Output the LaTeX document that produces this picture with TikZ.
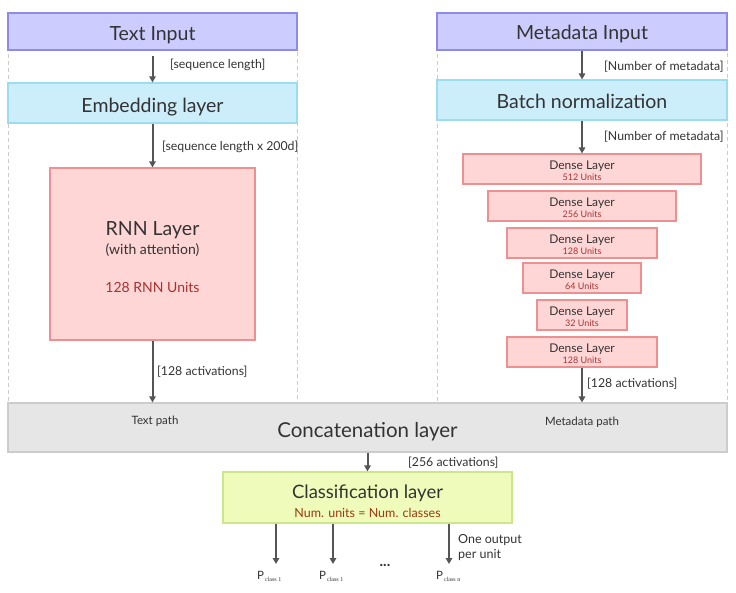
\documentclass[tikz,border=0pt]{standalone}
\usepackage{fontspec}
\setmainfont{Lato}
\newfontfamily\subfont{Liberation Serif}
\usetikzlibrary{arrows.meta}
\definecolor{txt}{HTML}{333333}
\definecolor{redtxt}{HTML}{A83232}
\definecolor{browntxt}{HTML}{9A3A10}
\definecolor{lavfill}{HTML}{CCCCFF}
\definecolor{lavdraw}{HTML}{8C8CE8}
\definecolor{cyanfill}{HTML}{CCEEFB}
\definecolor{cyandraw}{HTML}{99DDEE}
\definecolor{pinkfill}{HTML}{FFD6D6}
\definecolor{pinkdraw}{HTML}{EE9090}
\definecolor{grayfill}{HTML}{E6E6E6}
\definecolor{graydraw}{HTML}{CCCCCC}
\definecolor{limefill}{HTML}{EEFBBA}
\definecolor{limedraw}{HTML}{CCE68A}
\definecolor{arrowc}{HTML}{555555}
\begin{document}
\begin{tikzpicture}[x=1pt,y=-1pt,
  box/.style={draw, line width=1.2pt, inner sep=0pt, text=txt},
  inbox/.style={box, fill=lavfill, draw=lavdraw},
  embbox/.style={box, fill=cyanfill, draw=cyandraw},
  pinkbox/.style={box, fill=pinkfill, draw=pinkdraw},
  concbox/.style={box, fill=grayfill, draw=graydraw},
  classbox/.style={box, fill=limefill, draw=limedraw},
  panel/.style={draw=graydraw, line width=0.8pt, dash pattern=on 4pt off 3pt},
  conn/.style={draw=arrowc, line width=2pt, -{Triangle[length=6pt,width=6.5pt]}},
  big/.style={font=\fontsize{19.5}{22}\selectfont, text=txt},
  lab/.style={font=\fontsize{12.3}{14}\selectfont, text=txt, anchor=base west, inner sep=0pt},
  dl/.style={font=\fontsize{12}{13}\selectfont, text=txt, anchor=base, inner sep=0pt},
  du/.style={font=\fontsize{9}{10}\selectfont, text=redtxt, anchor=base, inner sep=0pt},
  pl/.style={font=\fontsize{11.5}{12}\selectfont, text=txt, anchor=base west, inner sep=0pt}
]
\useasboundingbox (0,0) rectangle (736,592);
% panels
\draw[panel] (8,12) rectangle (297,404);
\draw[panel] (437,12) rectangle (727,404);

% left column
\node[inbox, minimum width=289pt, minimum height=37pt] (ti) at (152.5,31.5) {};
\node[big, anchor=base, inner sep=0pt] (tit) at (152.5,40) {Text Input};
\node[embbox, minimum width=289pt, minimum height=40pt] (emb) at (152.5,103) {};
\node[big, anchor=base, inner sep=0pt] (embt) at (152.5,112) {Embedding layer};
\node[pinkbox, minimum width=205pt, minimum height=172pt] (rnn) at (152.5,254) {};
\node[big, anchor=base, inner sep=0pt] (rnnt) at (152.5,235) {RNN Layer};
\node[font=\fontsize{14}{16}\selectfont, text=txt, anchor=base, inner sep=0pt] (rnna) at (152.5,254) {(with attention)};
\node[font=\fontsize{14}{16}\selectfont, text=redtxt, anchor=base, inner sep=0pt] (rnnu) at (152.5,292) {128 RNN Units};

% right column
\node[inbox, minimum width=290pt, minimum height=37pt] (mi) at (582,31.5) {};
\node[big, anchor=base, inner sep=0pt] (mit) at (582,39) {Metadata Input};
\node[embbox, minimum width=290pt, minimum height=40pt] (bn) at (582,100) {};
\node[big, anchor=base, inner sep=0pt] (bnt) at (582,108) {Batch normalization};

\node[pinkbox, minimum width=238pt, minimum height=30pt] (d1) at (582,169) {};
\node[dl] at (582,169) {Dense Layer};
\node[du] at (582,180) {512 Units};
\node[pinkbox, minimum width=188pt, minimum height=30pt] (d2) at (582,206) {};
\node[dl] at (582,206) {Dense Layer};
\node[du] at (582,217) {256 Units};
\node[pinkbox, minimum width=150pt, minimum height=30pt] (d3) at (582,243) {};
\node[dl] at (582,243) {Dense Layer};
\node[du] at (582,254) {128 Units};
\node[pinkbox, minimum width=118pt, minimum height=30pt] (d4) at (582,278) {};
\node[dl] at (582,278) {Dense Layer};
\node[du] at (582,289) {64 Units};
\node[pinkbox, minimum width=90pt, minimum height=30pt] (d5) at (582,315) {};
\node[dl] at (582,315) {Dense Layer};
\node[du] at (582,326) {32 Units};
\node[pinkbox, minimum width=150pt, minimum height=30pt] (d6) at (582,352) {};
\node[dl] at (582,352) {Dense Layer};
\node[du] at (582,363) {128 Units};

% concatenation
\node[concbox, minimum width=719pt, minimum height=49pt] (cat) at (367.5,427.5) {};
\node[font=\fontsize{20.5}{23}\selectfont, text=txt, anchor=base, inner sep=0pt] (catt) at (367.5,437) {Concatenation layer};
\node[font=\fontsize{11.5}{13}\selectfont, text=txt, anchor=base, inner sep=0pt] (tp) at (155,424) {Text path};
\node[font=\fontsize{11.5}{13}\selectfont, text=txt, anchor=base, inner sep=0pt] (mp) at (582,425) {Metadata path};

% classification
\node[classbox, minimum width=289pt, minimum height=51pt] (cls) at (367.5,497.5) {};
\node[font=\fontsize{18.5}{21}\selectfont, text=txt, anchor=base, inner sep=0pt] (clst) at (367.5,498) {Classification layer};
\node[font=\fontsize{12.5}{14}\selectfont, text=browntxt, anchor=base, inner sep=0pt] (clsu) at (367.5,517) {Num. units = Num. classes};

% output coordinates
\coordinate (o1) at (276,564);
\coordinate (o2) at (333,564);
\coordinate (o3) at (449,564);
\node[pl] (p1) at (257,579) {P\raisebox{-2pt}{\subfont\fontsize{6}{7}\selectfont\,class 1}};
\node[pl] (p2) at (319,579) {P\raisebox{-2pt}{\subfont\fontsize{6}{7}\selectfont\,class 1}};
\node[pl] (p3) at (436,579) {P\raisebox{-2pt}{\subfont\fontsize{6}{7}\selectfont\,class n}};
\node[font=\fontsize{15}{16}\selectfont\bfseries, text=txt, inner sep=0pt, anchor=base] (dots) at (385,566) {...};

% connectors
\draw[conn] ([yshift=-5pt]ti.south) -- (emb.north);
\draw[conn] (emb.south) -- (rnn.north);
\draw[conn] (rnn.south) -- (rnn.south |- cat.north);
\draw[conn] (mi.south) -- (bn.north);
\draw[conn] (bn.south) -- (d1.north);
\draw[conn] (d6.south) -- (d6.south |- cat.north);
\draw[conn] (cls.north |- cat.south) -- (cls.north);
\draw[conn] (cls.south -| o1) -- (o1);
\draw[conn] (cls.south -| o2) -- (o2);
\draw[conn] (cls.south -| o3) -- (o3);

% connector labels
\node[lab] at (170,68) {[sequence length]};
\node[lab] at (162,150) {[sequence length x 200d]};
\node[lab] at (157,375) {[128 activations]};
\node[lab] at (604,70) {[Number of metadata]};
\node[lab] at (604,140) {[Number of metadata]};
\node[lab] at (587,387) {[128 activations]};
\node[lab] at (408,466) {[256 activations]};
\node[font=\fontsize{12.5}{15}\selectfont, text=txt, anchor=base west, inner sep=0pt] at (458,543) {One output};
\node[font=\fontsize{12.5}{15}\selectfont, text=txt, anchor=base west, inner sep=0pt] at (458,558) {per unit};
\end{tikzpicture}
\end{document}
